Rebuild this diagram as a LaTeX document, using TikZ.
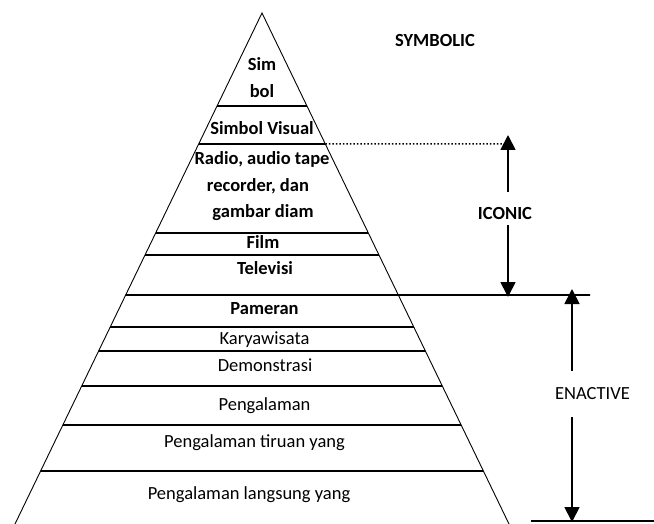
\documentclass[tikz,border=0pt]{standalone}
\usepackage{fontspec}
\setmainfont{Carlito}
\usetikzlibrary{calc, arrows.meta}
\tikzstyle{edge} = [line width=0.9pt]
\tikzstyle{layer} = [line width=1.8pt]
\tikzstyle{lbl} = [font=\fontsize{18.5}{22}\selectfont, anchor=base, inner sep=0pt]
\tikzstyle{blbl} = [lbl, font=\fontsize{18.5}{22}\selectfont\bfseries]
\tikzstyle{arrow} = [line width=1.8pt, -{Triangle[width=15pt,length=15pt]}]

\begin{document}
\begin{tikzpicture}[x=1pt, y=-1pt]
\useasboundingbox (0,0) rectangle (654,524);

%% PYRAMID

\coordinate (apex) at (262,13);
\coordinate (bl) at (15,524);
\coordinate (br) at (509,524);
\draw [edge] (bl) -- (apex) -- (br);

\foreach \y in {106,144,233,255,327,351,386,425,471}
  \draw [layer] ($(apex)!{(\y-13)/511}!(bl)$) -- ($(apex)!{(\y-13)/511}!(br)$);
\draw [layer] ($(apex)!{282/511}!(bl)$) -- (590,295);

%% NODES

\node (sim) [blbl] at (262,71) {Sim};
\node (bol) [blbl] at (262,98) {bol};
\node (visual) [blbl] at (262,135) {Simbol Visual};
\node (radio1) [blbl] at (262,165) {Radio, audio tape};
\node (radio2) [blbl] at (258,192) {recorder, dan};
\node (radio3) [blbl] at (263,218) {gambar diam};
\node (film) [blbl] at (263,249) {Film};
\node (tv) [blbl] at (265,275) {Televisi};
\node (pameran) [blbl] at (264.5,314) {Pameran};
\node (karya) [lbl] at (264.5,344) {Karyawisata};
\node (demo) [lbl] at (265,371) {Demonstrasi};
\node (peng) [lbl] at (264.5,410) {Pengalaman};
\node (tiruan) [lbl] at (254.5,447) {Pengalaman tiruan yang};
\node (langsung) [lbl] at (249,499) {Pengalaman langsung yang};

\node (symbolic) [blbl] at (435,47) {SYMBOLIC};
\node (iconic) [blbl] at (505,219) {ICONIC};
\node (enactive) [lbl] at (592.5,399) {ENACTIVE};

%% ARROWS

\coordinate (icotop) at (508,135);
\coordinate (icobot) at (508,297);
\coordinate (icoup) at (508,192);
\coordinate (icodown) at (508,225);
\coordinate (dotend) at (508,144);
\coordinate (enatop) at (572,289);
\coordinate (enabot) at (572,522);
\coordinate (enaup) at (572,371);
\coordinate (enadown) at (572,417);

\draw [line width=1.5pt, dash pattern=on 1.5pt off 2pt] ($(apex)!{131/511}!(br)$) -- (dotend);
\draw [arrow] (icoup) -- (icotop);
\draw [arrow] (icodown) -- (icobot);
\draw [arrow] (enaup) -- (enatop);
\draw [arrow] (enadown) -- (enabot);
\draw [layer] (531,521) -- (654,521);

\end{tikzpicture}
\end{document}
